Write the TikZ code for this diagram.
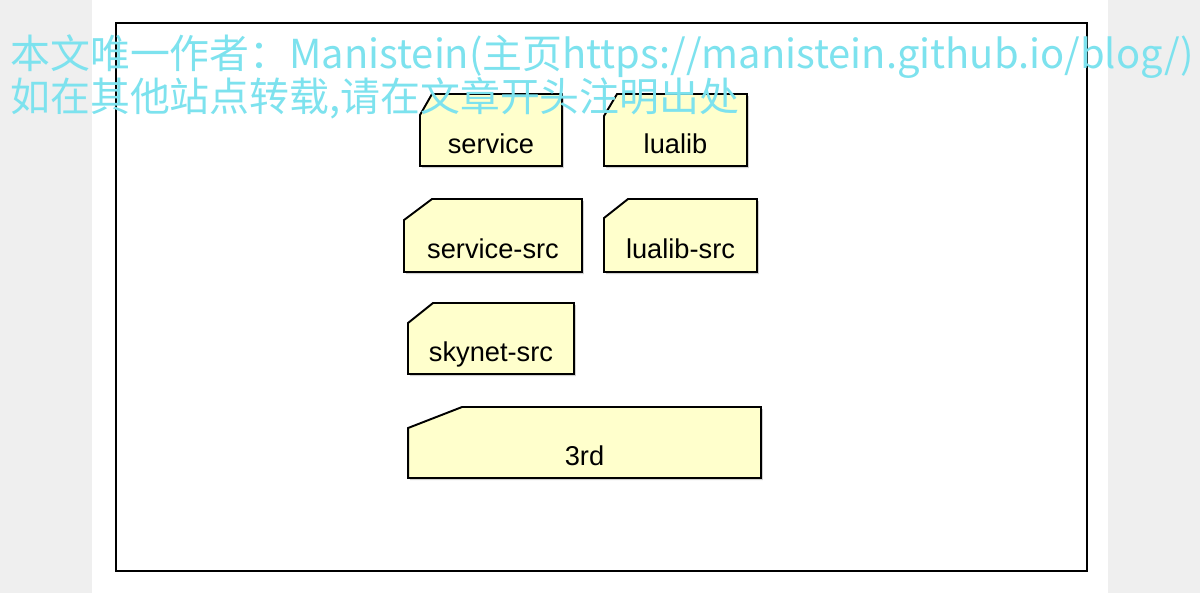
\documentclass[tikz,border=0pt]{standalone}
\usepackage{fontspec}
\setmainfont{Liberation Sans}
\newfontfamily\cjk{Noto Sans CJK SC}
\usepackage{xcolor}
\definecolor{pkgbg}{RGB}{255,255,204}
\definecolor{pagebg}{RGB}{239,239,239}
\definecolor{markcyan}{RGB}{125,226,238}
\pgfdeclarelayer{background}
\pgfsetlayers{background,main}
% folder outline behind a package node: #1 node, #2 cut along x, #3 cut along y (px)
\newcommand{\pkgoutline}[3]{%
  \begin{pgfonlayer}{background}
    \fill[black!18] ([shift={(2,2)}]#1.south west) -- ([shift={(2,2+#3)}]#1.north west) -- ([shift={(2+#2,2)}]#1.north west) -- ([shift={(2,2)}]#1.north east) -- ([shift={(2,2)}]#1.south east) -- cycle;
    \filldraw[line width=1.1pt, fill=pkgbg] (#1.south west) -- ([shift={(0,#3)}]#1.north west) -- ([shift={(#2,0)}]#1.north west) -- (#1.north east) -- (#1.south east) -- cycle;
  \end{pgfonlayer}}

\begin{document}
\begin{tikzpicture}[
    x=0.02cm, y=-0.02cm,
    pkg/.style={rectangle, inner sep=0pt, outer sep=0pt, text height=0.92cm, text depth=0pt, font=\fontsize{15.5}{18}\selectfont},
    watermark/.style={inner sep=0pt, anchor=base west, text=markcyan, font=\cjk\fontsize{22.7}{26}\selectfont}
]
    \useasboundingbox (0,0) rectangle (1200,593);
    % Page
    \begin{pgfonlayer}{background}
        \fill[pagebg] (0,0) rectangle (1200,593);
        \fill[white] (92,0) rectangle (1108,593);
        \draw[line width=1.1pt] (116,23) rectangle (1087,571);
    \end{pgfonlayer}

    % Packages
    \node[pkg, minimum width=2.84cm, minimum height=1.44cm] (service) at (491,130) {service};
    \node[pkg, minimum width=2.86cm, minimum height=1.44cm] (lualib) at (675.5,130) {lualib};
    \node[pkg, minimum width=3.56cm, minimum height=1.46cm] (servicesrc) at (493,235.5) {service-src};
    \node[pkg, minimum width=3.06cm, minimum height=1.46cm] (lualibsrc) at (680.5,235.5) {lualib-src};
    \node[pkg, minimum width=3.32cm, minimum height=1.42cm] (skynetsrc) at (491,338.5) {skynet-src};
    \node[pkg, minimum width=7.06cm, minimum height=1.42cm] (third) at (584.5,442.5) {3rd};

    \pkgoutline{service}{12}{21}
    \pkgoutline{lualib}{13}{22}
    \pkgoutline{servicesrc}{28}{21}
    \pkgoutline{lualibsrc}{24}{19}
    \pkgoutline{skynetsrc}{25}{20}
    \pkgoutline{third}{54}{21}

    % Watermark
    \node[watermark] (markA) at (10,68) {本文唯一作者：Manistein(主页https://manistein.github.io/blog/)};
    \node[watermark] (markB) at (10,111) {如在其他站点转载,请在文章开头注明出处};
\end{tikzpicture}
\end{document}
